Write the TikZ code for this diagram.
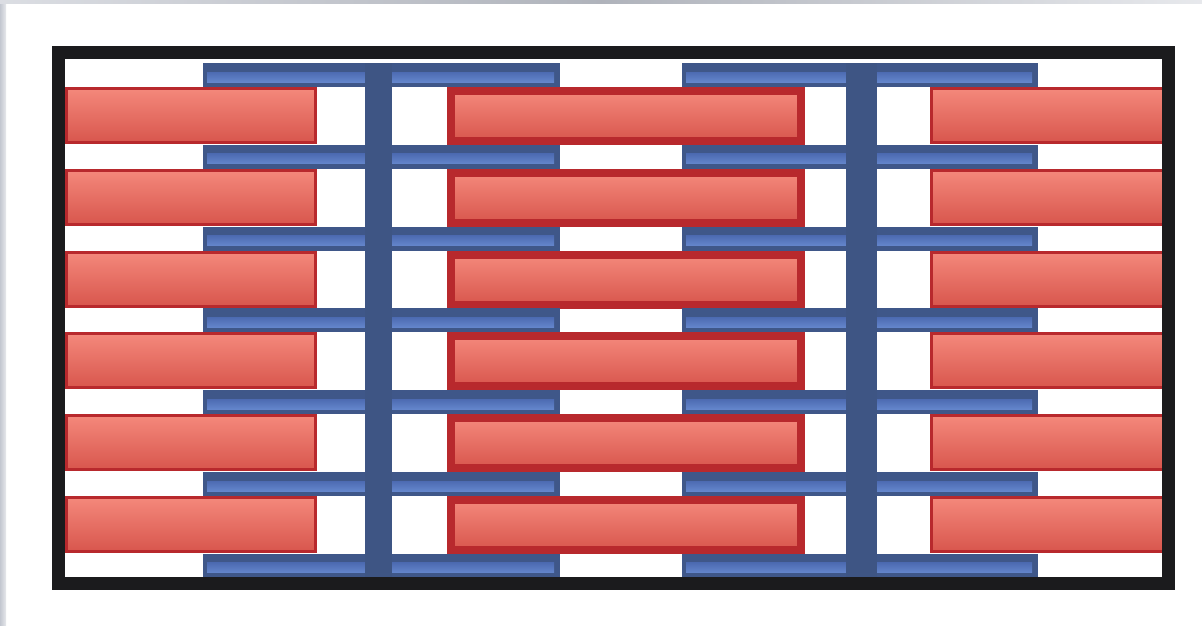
\documentclass[tikz,border=0pt]{standalone}
\usetikzlibrary{calc}
\definecolor{sarcFrame}{HTML}{1B1B1D}
\definecolor{sarcRedEdge}{HTML}{B8292D}
\definecolor{sarcRedTop}{HTML}{F4887B}
\definecolor{sarcRedLow}{HTML}{D8564D}
\definecolor{sarcNavy}{HTML}{3F5789}
\definecolor{sarcBlueHi}{HTML}{6486CC}
\definecolor{sarcBlueLo}{HTML}{4D6BB2}
\definecolor{sarcZ}{HTML}{3E5584}
\definecolor{sarcEdge}{HTML}{C3C7D0}

\begin{document}
\begin{tikzpicture}[x=1pt,y=-1pt,line join=miter]
\useasboundingbox (0,0) rectangle (1202,625);
\path[fill=white] (0,0) rectangle (1202,625);
% slide edges
\shade[left color=sarcEdge,right color=sarcEdge!40] (0,0) rectangle (6,625);
\shade[left color=sarcEdge!60,right color=sarcEdge!40,middle color=sarcEdge!90!black] (0,0) rectangle (1202,3);
\tikzset{redbar/.style={draw=sarcRedEdge,line width=3pt,top color=sarcRedTop,bottom color=sarcRedLow},midbar/.style={redbar,line width=8pt},bluebar/.style={fill=sarcNavy},bluestripe/.style={top color=sarcBlueLo,bottom color=sarcBlueHi},zline/.style={fill=sarcZ},frame/.style={draw=sarcFrame,line width=13pt}}
% thick filaments
\foreach \r [evaluate=\r as \t using 87+81.8*\r] in {0,...,5}{
  \draw[redbar] (66.5,\t+1.5) rectangle (315.5,\t+55.5);
  \draw[midbar] (451,\t+4) rectangle (801,\t+54);
  \draw[redbar] (931.5,\t+1.5) rectangle (1164,\t+55.5);
}
% thin filaments
\foreach \b [evaluate=\b as \u using 63+81.8*\b] in {0,...,6}{
  \foreach \xa/\xb in {203/560,682/1038}{
    \path[bluebar] (\xa,\u) rectangle (\xb,\u+24);
    \shade[bluestripe] (\xa+4,\u+9) rectangle (\xb-6,\u+19);
  }
}
% Z lines
\path[zline] (365,63) rectangle (392,578);
\path[zline] (846,63) rectangle (877,578);
\draw[frame] (58.5,52) rectangle (1168.5,583.5);
\end{tikzpicture}
\end{document}
